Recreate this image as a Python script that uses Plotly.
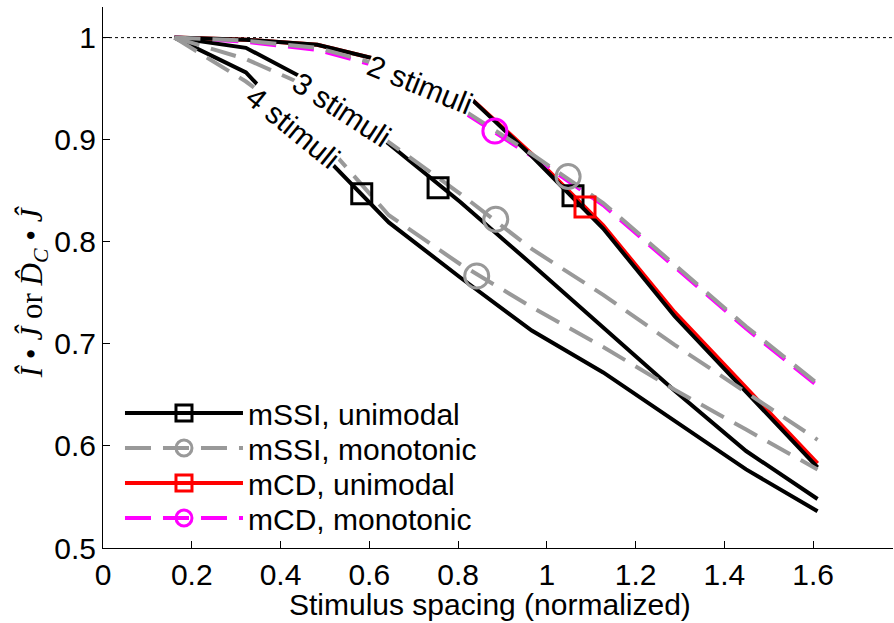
import plotly.graph_objects as go

# ---- data ----
spacing = [0.161, 0.322, 0.483, 0.644, 0.805, 0.966, 1.127, 1.288, 1.449, 1.61]

mssi_uni_2 = [1.000, 0.998, 0.993, 0.976, 0.950, 0.884, 0.813, 0.727, 0.653, 0.579]
mssi_uni_3 = [1.000, 0.990, 0.953, 0.896, 0.839, 0.778, 0.716, 0.654, 0.595, 0.548]
mssi_uni_4 = [1.000, 0.966, 0.891, 0.819, 0.765, 0.713, 0.672, 0.624, 0.577, 0.536]

mssi_mono_2 = [1.000, 0.997, 0.990, 0.971, 0.931, 0.886, 0.838, 0.777, 0.717, 0.661]
mssi_mono_3 = [1.000, 0.979, 0.948, 0.897, 0.847, 0.793, 0.748, 0.699, 0.652, 0.606]
mssi_mono_4 = [1.000, 0.957, 0.905, 0.826, 0.778, 0.736, 0.697, 0.655, 0.616, 0.577]

mcd_uni_2 = [1.000, 0.998, 0.993, 0.976, 0.950, 0.886, 0.816, 0.731, 0.657, 0.583]
mcd_mono_2 = [1.000, 0.996, 0.988, 0.969, 0.929, 0.884, 0.836, 0.775, 0.715, 0.659]

# optimal-spacing markers (2, 3, 4 stimuli)
mssi_uni_opt_x = [1.059, 0.755, 0.583]
mssi_uni_opt_y = [0.845, 0.853, 0.847]
mssi_mono_opt_x = [1.048, 0.885, 0.842]
mssi_mono_opt_y = [0.864, 0.822, 0.7665]
mcd_uni_opt_x = [1.086]
mcd_uni_opt_y = [0.834]
mcd_mono_opt_x = [0.883]
mcd_mono_opt_y = [0.9085]

curve_labels = ["2 stimuli", "3 stimuli", "4 stimuli"]
label_x = [0.714, 0.538, 0.428]
label_y = [0.954, 0.930, 0.912]
label_angle = [22, 33, 39]

series_names = ["mSSI, unimodal", "mSSI, monotonic", "mCD, unimodal", "mCD, monotonic"]

x_ticks = [0, 0.2, 0.4, 0.6, 0.8, 1, 1.2, 1.4, 1.6]
x_ticktext = ["0", "0.2", "0.4", "0.6", "0.8", "1", "1.2", "1.4", "1.6"]
y_ticks = [0.5, 0.6, 0.7, 0.8, 0.9, 1.0]
y_ticktext = ["0.5", "0.6", "0.7", "0.8", "0.9", "1"]

x_title = "Stimulus spacing (normalized)"
y_title = "<i>Î</i> • <i>Ĵ</i> or <i>D̂</i><sub><i>C</i></sub> • <i>Ĵ</i>"

BLACK = "#000000"
GRAY = "#999999"
RED = "#ff0000"
MAGENTA = "#ff00ff"
DASH = "26px,12px"
FONT = "Liberation Sans, Arial, Helvetica, sans-serif"
SERIF = "Liberation Serif, Times New Roman, serif"
FS = 30

fig = go.Figure()


def add_line(y, color, dash):
    fig.add_trace(go.Scatter(
        x=spacing, y=y, mode="lines",
        line=dict(color=color, width=4, dash=dash),
        showlegend=False, hoverinfo="skip"))


def with_gaps(vals):
    out = []
    for i, v in enumerate(vals):
        if i:
            out.append(None)
        out.append(v)
    return out


# lines (drawing order: red, magenta, black, gray)
add_line(mcd_uni_2, RED, "solid")
add_line(mcd_mono_2, MAGENTA, DASH)
for ys in (mssi_uni_2, mssi_uni_3, mssi_uni_4):
    add_line(ys, BLACK, "solid")
for ys in (mssi_mono_2, mssi_mono_3, mssi_mono_4):
    add_line(ys, GRAY, DASH)

# markers + legend entries (one legend box per entry for exact row spacing)
specs = [
    (mssi_uni_opt_x, mssi_uni_opt_y, BLACK, "solid", "square-open", 20, "legend"),
    (mssi_mono_opt_x, mssi_mono_opt_y, GRAY, DASH, "circle-open", 24, "legend2"),
    (mcd_uni_opt_x, mcd_uni_opt_y, RED, "solid", "square-open", 20, "legend3"),
    (mcd_mono_opt_x, mcd_mono_opt_y, MAGENTA, DASH, "circle-open", 24, "legend4"),
]
for name, (mx, my, color, dash, sym, size, lg) in zip(series_names, specs):
    fig.add_trace(go.Scatter(
        x=with_gaps(mx), y=with_gaps(my), mode="lines+markers", name=name,
        connectgaps=False, legend=lg,
        line=dict(color=color, width=4, dash=dash),
        marker=dict(symbol=sym, size=size, color=color, line=dict(color=color, width=3))))

# curve labels
for txt, lx, ly, ang in zip(curve_labels, label_x, label_y, label_angle):
    fig.add_annotation(x=lx, y=ly, text=txt, showarrow=False, textangle=ang,
                       bgcolor="white", borderpad=0,
                       font=dict(family=FONT, size=FS, color="black"))

# axis titles
fig.add_annotation(xref="paper", yref="paper", x=0.49, y=-0.104, text=x_title,
                   showarrow=False, xanchor="center", yanchor="middle",
                   font=dict(family=FONT, size=FS, color="black"))
fig.add_annotation(xref="paper", yref="paper", x=-0.088, y=0.4737, text=y_title,
                   showarrow=False, xanchor="center", yanchor="middle", textangle=-90,
                   font=dict(family=SERIF, size=31, color="black"))

# dotted reference at 1
fig.add_shape(type="line", xref="paper", x0=0, x1=1, yref="y", y0=1, y1=1,
              line=dict(color="black", width=1, dash="3px,3px"), layer="below")

legend_rows = [0.2495, 0.1848, 0.1201, 0.0555]


def legend_cfg(yc):
    return dict(x=0.0215, y=yc, xanchor="left", yanchor="middle",
                bgcolor="rgba(0,0,0,0)", borderwidth=0, itemwidth=118,
                tracegroupgap=0, font=dict(family=FONT, size=FS, color="black"))


fig.update_layout(
    width=894, height=623,
    margin=dict(l=103, r=1, t=7, b=75),
    paper_bgcolor="white", plot_bgcolor="white",
    font=dict(family=FONT, size=FS, color="black"),
    showlegend=True,
    legend=legend_cfg(legend_rows[0]),
    legend2=legend_cfg(legend_rows[1]),
    legend3=legend_cfg(legend_rows[2]),
    legend4=legend_cfg(legend_rows[3]),
    xaxis=dict(range=[0, 1.78], tickvals=x_ticks, ticktext=x_ticktext,
               showline=True, linecolor="black", linewidth=1, mirror=False,
               ticks="inside", ticklen=7, tickcolor="black", showgrid=False, zeroline=False,
               tickfont=dict(size=FS)),
    yaxis=dict(range=[0.5, 1.03], tickvals=y_ticks, ticktext=y_ticktext,
               showline=True, linecolor="black", linewidth=1, mirror=False,
               ticks="inside", ticklen=7, tickcolor="black", showgrid=False, zeroline=False,
               tickfont=dict(size=FS)),
)

fig.write_html("out.html")
